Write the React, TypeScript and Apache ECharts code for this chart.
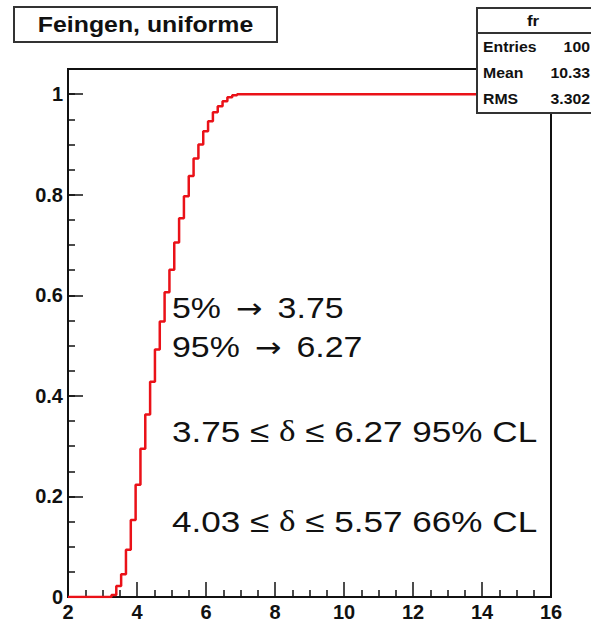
import React, { useEffect, useRef } from 'react';
import * as echarts from 'echarts';

// Histogram definition (ROOT TH1 "fr"): 100 bins from 2 to 16, cumulative distribution
const X_MIN = 2;
const X_MAX = 16;
const N_BINS = 100;
const binValues: number[] = [
  0, 0, 0, 0, 0, 0, 0, 0, 0,
  0.004, 0.022, 0.045, 0.094, 0.153, 0.223, 0.295, 0.363, 0.428, 0.492,
  0.548, 0.606, 0.651, 0.705, 0.753, 0.797, 0.837, 0.872, 0.9, 0.926,
  0.946, 0.964, 0.976, 0.986, 0.994, 0.998,
  1, 1, 1, 1, 1, 1, 1, 1, 1, 1,
  1, 1, 1, 1, 1, 1, 1, 1, 1, 1,
  1, 1, 1, 1, 1, 1, 1, 1, 1, 1,
  1, 1, 1, 1, 1, 1, 1, 1, 1, 1,
  1, 1, 1, 1, 1, 1, 1, 1, 1, 1,
  1, 1, 1, 1, 1, 1, 1, 1, 1, 1,
  1, 1, 1, 1, 1,
];

const titleText = 'Feingen, uniforme';
const statsTitle = 'fr';
const statsLabels = ['Entries', 'Mean', 'RMS'];
const statsValues = ['100', '10.33', '3.302'];
const annotationLines = [
  '5% {a|→} 3.75',
  '95% {a|→} 6.27',
  '3.75 ≤ {d|δ} ≤ 6.27 95% CL',
  '4.03 ≤ {d|δ} ≤ 5.57 66% CL',
];

export default function App() {
  const ref = useRef<HTMLDivElement>(null);

  useEffect(() => {
    if (!ref.current) return;
    const chart = echarts.init(ref.current, null, { renderer: 'svg' });
    const bw = (X_MAX - X_MIN) / N_BINS;
    const data: number[][] = binValues.map((v, i) => [X_MIN + i * bw, v]);
    data.push([X_MAX, binValues[N_BINS - 1]]);

    const SX = 1.13;
    const font = 'Liberation Sans, Arial, Helvetica, sans-serif';
    const annY = [308, 347, 431, 521];
    const annSX = [1.13, 1.13, 1.17, 1.17];

    const graphics: any[] = [
      // title box
      {
        type: 'rect', z: 100,
        shape: { x: 14, y: 7, width: 263, height: 35 },
        style: { fill: '#fff', stroke: '#333', lineWidth: 2 },
      },
      {
        type: 'text', z: 101, x: 145.5, y: 25, scaleX: SX,
        style: {
          text: titleText, fill: '#111', font: `bold 22px ${font}`,
          align: 'center', verticalAlign: 'middle',
        },
      },
      // stats box
      {
        type: 'rect', z: 100,
        shape: { x: 477, y: 8, width: 140, height: 105 },
        style: { fill: '#fff', stroke: '#333', lineWidth: 2 },
      },
      {
        type: 'line', z: 101,
        shape: { x1: 477, y1: 33, x2: 600, y2: 33 },
        style: { stroke: '#333', lineWidth: 2 },
      },
      {
        type: 'text', z: 101, x: 533, y: 21, scaleX: SX,
        style: {
          text: statsTitle, fill: '#111', font: `bold 15px ${font}`,
          align: 'center', verticalAlign: 'middle',
        },
      },
    ];
    const statY = [47, 73, 99];
    statsLabels.forEach((lab, i) => {
      graphics.push({
        type: 'text', z: 101, x: 483, y: statY[i], scaleX: SX,
        style: { text: lab, fill: '#111', font: `bold 14px ${font}`, align: 'left', verticalAlign: 'middle' },
      });
      graphics.push({
        type: 'text', z: 101, x: 590, y: statY[i], scaleX: SX,
        style: { text: statsValues[i], fill: '#111', font: `bold 14px ${font}`, align: 'right', verticalAlign: 'middle' },
      });
    });
    annotationLines.forEach((t, i) => {
      graphics.push({
        type: 'text', z: 101, x: 172, y: annY[i], scaleX: annSX[i],
        style: {
          text: t, fill: '#111', font: `30px ${font}`,
          align: 'left', verticalAlign: 'middle',
          rich: {
            d: { fontFamily: 'Liberation Serif', fontSize: 30, fill: '#111' },
            a: { fontFamily: 'DejaVu Sans', fontSize: 28, fill: '#111', padding: [0, 5, 0, 5] },
          },
        },
      });
    });

    const tickLine = { color: '#111', width: 1.5 };
    const labelStyle = {
      fontSize: 20, fontWeight: 'bold' as const, fontFamily: font, color: '#111',
    };

    chart.setOption({
      animation: false,
      backgroundColor: '#fff',
      grid: {
        left: 68, right: 40, top: 69, bottom: 26,
        show: true, borderColor: '#111', borderWidth: 2, backgroundColor: '#fff',
      },
      xAxis: {
        type: 'value', min: X_MIN, max: X_MAX, interval: 2,
        axisLine: { show: true, onZero: false, lineStyle: { color: '#111', width: 2 } },
        axisTick: { show: true, inside: true, length: 15, lineStyle: tickLine },
        minorTick: { show: true, splitNumber: 4, length: 7, lineStyle: tickLine },
        splitLine: { show: false },
        minorSplitLine: { show: false },
        axisLabel: { ...labelStyle, margin: 5 },
      },
      yAxis: [
        {
          type: 'value', min: 0, max: 1.05, interval: 0.05, position: 'left',
          axisLine: { show: true, onZero: false, lineStyle: { color: '#111', width: 2 } },
          axisTick: { show: true, inside: true, length: 7, lineStyle: tickLine },
          axisLabel: { show: false },
          splitLine: { show: false },
        },
        {
          type: 'value', min: 0, max: 1.05, interval: 0.2, position: 'left',
          axisLine: { show: false, onZero: false },
          axisTick: { show: true, inside: true, length: 15, lineStyle: tickLine },
          axisLabel: {
            ...labelStyle, margin: 5,
            formatter: (v: number) => (v > 1.001 ? '' : String(Math.round(v * 10) / 10)),
          },
          splitLine: { show: false },
        },
      ],
      series: [
        {
          type: 'line', step: 'end', data, xAxisIndex: 0, yAxisIndex: 0,
          showSymbol: false, symbol: 'none',
          lineStyle: { color: '#ea1118', width: 2.5 },
          z: 5,
        },
      ],
      graphic: { elements: graphics },
    });

    return () => chart.dispose();
  }, []);

  return (
    <div
      ref={ref}
      style={{ position: 'fixed', left: 0, top: 0, width: 591, height: 623, background: '#fff' }}
    />
  );
}
